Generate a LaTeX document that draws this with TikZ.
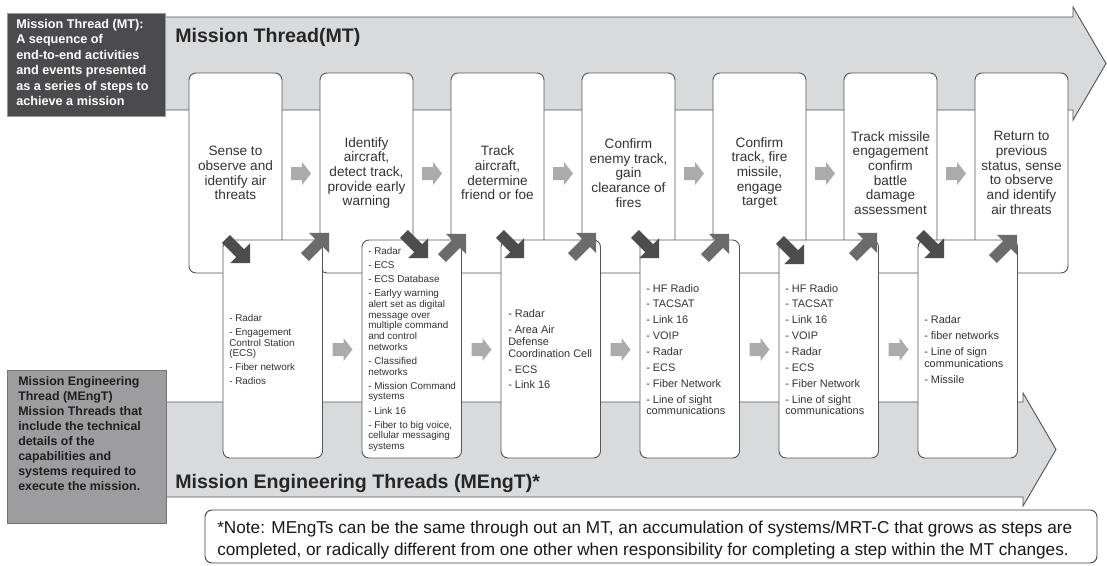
\documentclass[tikz,border=0pt]{standalone}
\usepackage{fontspec}
\setmainfont{Liberation Sans}
\definecolor{bandfill}{HTML}{D9DADC}
\definecolor{lineclr}{HTML}{555555}
\definecolor{txt}{HTML}{333333}
\definecolor{mtbox}{HTML}{4B4B4D}
\definecolor{mengbox}{HTML}{9D9D9F}
\definecolor{darkarrow}{HTML}{4D4D4D}
\definecolor{midarrow}{HTML}{6B6B6B}
\definecolor{lightarrow}{HTML}{ABABAB}
\begin{document}
\begin{tikzpicture}[x=0.75pt,y=-0.75pt,
  band/.style={fill=bandfill, draw=lineclr, line width=0.7pt, line join=miter},
  stepbox/.style={draw=lineclr, fill=white, line width=0.7pt, rounded corners=5.25pt,
    minimum width=69.75pt, minimum height=150pt, inner sep=0pt, align=center,
    text=txt, font=\fontsize{10.2}{11}\selectfont},
  sysbox/.style={draw=lineclr, fill=white, line width=0.7pt, rounded corners=5.25pt,
    minimum width=74.6pt, minimum height=163.5pt, inner sep=0pt},
  systext/.style={anchor=west, align=left, inner sep=0pt, text=txt, font=\fontsize{8.2}{8.8}\selectfont},
  systextsm/.style={systext, font=\fontsize{7.4}{8.2}\selectfont},
  titletext/.style={anchor=base west, inner sep=0pt, text=black!85, font=\bfseries\fontsize{14.7}{16}\selectfont},
  sidetext/.style={anchor=north west, inner sep=0pt, align=left, font=\bfseries\fontsize{9.5}{11.6}\selectfont},
  dnarr/.pic={\path[fill=darkarrow, rotate=-45] (-17,-5.5) -- (3,-5.5) -- (3,-14) -- (17,0) -- (3,14) -- (3,5.5) -- (-17,5.5) -- cycle;},
  uparr/.pic={\path[fill=midarrow, rotate=45] (-17,-5.5) -- (3,-5.5) -- (3,-14) -- (17,0) -- (3,14) -- (3,5.5) -- (-17,5.5) -- cycle;},
  rarr/.pic={\path[fill=lightarrow] (-10,-6.5) -- (1,-6.5) -- (1,-11.5) -- (10,0) -- (1,11.5) -- (1,6.5) -- (-10,6.5) -- cycle;}
]
\useasboundingbox (0,0) rectangle (1107,565);

% big thread arrows
\draw[band] (150,17) -- (1073,17) -- (1073,7) -- (1106,63.5) -- (1073,120) -- (1073,110) -- (150,110) -- cycle;
\draw[band] (150,402) -- (1023,402) -- (1023,393) -- (1056,449.5) -- (1023,506) -- (1023,497) -- (150,497) -- cycle;

% mission thread steps
\node[stepbox] (s1) at (235.5,173) {Sense to\\observe and\\identify air\\threats};
\node[stepbox] (s2) at (366.5,173) {Identify\\aircraft,\\detect track,\\provide early\\warning};
\node[stepbox] (s3) at (497.5,173) {Track\\aircraft,\\determine\\friend or foe};
\node[stepbox] (s4) at (628.5,173) {Confirm\\enemy track,\\gain\\clearance of\\fires};
\node[stepbox] (s5) at (759.5,173) {Confirm\\track, fire\\missile,\\engage\\target};
\node[stepbox] (s6) at (890.5,173) {Track missile\\engagement\\confirm\\battle\\damage\\assessment};
\node[stepbox] (s7) at (1021.5,173) {Return to\\previous\\status, sense\\to observe\\and identify\\air threats};

% mission engineering thread boxes
\node[sysbox] (e1) at (272.75,349) {};
\node[sysbox] (e2) at (411.75,349) {};
\node[sysbox] (e3) at (550.75,349) {};
\node[sysbox] (e4) at (689.75,349) {};
\node[sysbox] (e5) at (828.75,349) {};
\node[sysbox] (e6) at (967.75,349) {};

\node[systextsm] (t1) at (229,349.5) {- Radar\\[2.3pt]- Engagement\\Control Station\\(ECS)\\[2.3pt]- Fiber network\\[2.3pt]- Radios};
\node[systextsm, font=\fontsize{7.4}{8}\selectfont] (t2) at (368,349.5) {- Radar\\[2.6pt]- ECS\\[2.6pt]- ECS Database\\[2.6pt]- Earlyy warning\\alert set as digital\\message over\\multiple command\\and control\\networks\\[2.6pt]- Classified\\networks\\[2.6pt]- Mission Command\\systems\\[2.6pt]- Link 16\\[2.6pt]- Fiber to big voice,\\cellular messaging\\systems};
\node[systext] (t3) at (508,349.5) {- Radar\\[3.1pt]- Area Air\\Defense\\Coordination Cell\\[3.1pt]- ECS\\[3.1pt]- Link 16};
\node[systext] (t4) at (646,349.5) {- HF Radio\\[3.1pt]- TACSAT\\[3.1pt]- Link 16\\[3.1pt]- VOIP\\[3.1pt]- Radar\\[3.1pt]- ECS\\[3.1pt]- Fiber Network\\[3.1pt]- Line of sight\\communications};
\node[systext] (t5) at (785,349.5) {- HF Radio\\[3.1pt]- TACSAT\\[3.1pt]- Link 16\\[3.1pt]- VOIP\\[3.1pt]- Radar\\[3.1pt]- ECS\\[3.1pt]- Fiber Network\\[3.1pt]- Line of sight\\communications};
\node[systext] (t6) at (924,349.5) {- Radar\\[3.1pt]- fiber networks\\[3.1pt]- Line of sign\\communications\\[3.1pt]- Missile};

% small step arrows
\foreach \i in {0,...,5} {
  \pic at (301+131*\i,173.5) {rarr};
}
\foreach \i in {0,...,4} {
  \pic at (342.5+139*\i,349.5) {rarr};
}

% diagonal arrows
\pic at (238,251) {dnarr};
\pic at (416,246) {dnarr};
\pic at (512,246) {dnarr};
\pic at (647,246) {dnarr};
\pic at (792,252) {dnarr};
\pic at (932,246) {dnarr};
\pic at (317,245) {uparr};
\pic at (454,246) {uparr};
\pic at (584,245) {uparr};
\pic at (717,246) {uparr};
\pic at (865,245) {uparr};
\pic at (1005,247) {uparr};

% side description boxes
\node[fill=mtbox, draw=black!40, line width=0.6pt, minimum width=118.5pt, minimum height=77.25pt, inner sep=0pt] (mtbox) at (86,64.5) {};
\node[sidetext, text=white] (mtdesc) at (16,19) {Mission Thread (MT):\\A sequence of\\end-to-end activities\\and events presented\\as a series of steps to\\achieve a mission};
\node[fill=mengbox, draw=black!55, line width=0.6pt, minimum width=119.25pt, minimum height=114.75pt, inner sep=0pt] (mengbox) at (86.5,446.5) {};
\node[sidetext, text=black!88, font=\bfseries\fontsize{9.3}{11.25}\selectfont] (mengdesc) at (18,376) {Mission Engineering\\Thread (MEngT)\\Mission Threads that\\include the technical\\details of the\\capabilities and\\systems required to\\execute the mission.};

% titles
\node[titletext] (mttitle) at (175,42) {Mission Thread(MT)};
\node[titletext] (mengtitle) at (175,488) {Mission Engineering Threads (MEngT)*};

% note
\node[draw=black!75, fill=white, line width=0.7pt, rounded corners=5.25pt, minimum width=669pt, minimum height=39.75pt, inner sep=0pt] (note) at (651,536.5) {};
\node[anchor=north west, inner sep=0pt, align=left, text=black!90, font=\fontsize{12.9}{16.5}\selectfont] (notetext) at (217,520.5) {*Note: MEngTs can be the same through out an MT, an accumulation of systems/MRT-C that grows as steps are\\completed, or radically different from one other when responsibility for completing a step within the MT changes.};
\end{tikzpicture}
\end{document}
